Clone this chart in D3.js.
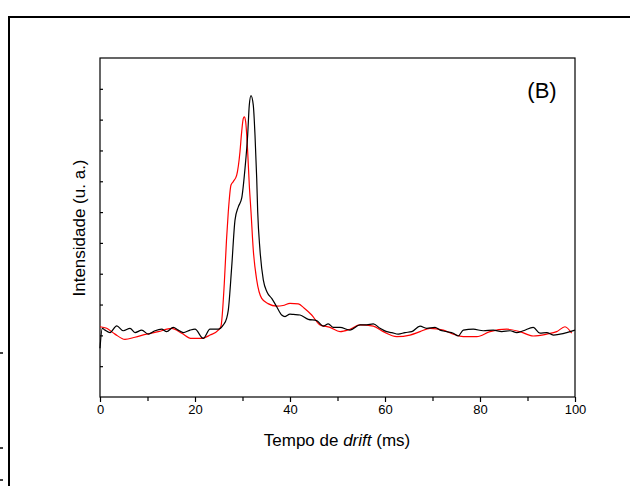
<!DOCTYPE html>
<html>
<head>
<meta charset="utf-8">
<script src="https://cdn.jsdelivr.net/npm/d3@7"></script>
<style>
body{margin:0;background:#fff;}
text{font-family:"Liberation Sans",Arial,sans-serif;fill:#000;}
</style>
</head>
<body>
<div class="chart"></div>
<script>
// drift time (ms) and intensity (a.u.)
var blackX = [0,0.48,1.05,2.11,3.52,4.91,6.32,7.37,8.78,10.17,11.58,12.99,14.04,15.43,16.48,17.54,18.95,20.0,21.75,23.16,24.91,25.96,26.67,27.01,27.73,28.42,29.12,29.83,30.53,31.09,31.43,31.79,32.27,32.63,32.99,33.2,33.68,34.38,35.16,36.15,37.2,38.25,38.95,40.0,40.69,42.11,43.85,45.62,47.01,48.06,49.12,50.53,52.63,54.74,56.15,57.54,58.95,60.36,61.41,62.8,64.21,65.62,67.37,68.78,70.53,71.58,72.99,74.38,75.43,76.48,78.59,80.69,82.8,84.57,86.32,87.73,89.12,91.22,92.63,94.04,95.43,96.84,98.25,100];
var blackY = [1.58,2.23,2.17,2.09,2.31,2.15,2.23,2.09,2.17,2.04,2.15,2.20,2.12,2.26,2.17,2.09,2.17,2.20,1.90,2.20,2.20,2.34,2.56,2.82,4.23,5.74,6.17,6.45,7.42,8.50,9.47,9.78,9.47,8.50,7.10,6.01,4.77,3.80,3.41,3.20,2.93,2.66,2.61,2.69,2.68,2.66,2.52,2.48,2.30,2.37,2.26,2.26,2.17,2.34,2.34,2.37,2.23,2.12,2.09,2.04,2.09,2.12,2.30,2.23,2.26,2.17,2.12,2.07,1.98,2.17,2.20,2.15,2.17,2.12,2.15,2.09,2.15,2.26,2.07,2.09,2.01,2.04,2.09,2.17];
var redX = [0,1.41,3.16,5.26,7.37,9.83,12.27,15.09,17.2,19.31,21.41,23.16,24.91,25.47,26.17,26.63,27.01,27.58,28.06,28.78,29.47,29.83,30.17,30.38,30.67,31.09,31.43,31.79,32.27,32.99,34.04,35.37,37.2,38.53,40.0,41.75,42.95,44.57,46.32,48.42,50.53,52.63,54.74,57.54,59.64,62.46,65.26,67.37,69.47,72.27,74.38,76.48,79.31,82.11,85.62,88.42,91.22,94.04,96.15,97.89,99.3];
var redY = [2.28,2.23,2.04,1.87,1.94,2.04,2.12,2.23,2.07,1.90,1.90,2.01,2.17,2.30,3.69,5.09,6.01,6.88,6.99,7.20,7.96,8.61,9.04,9.09,8.93,7.96,6.88,6.01,4.77,3.80,3.20,3.03,2.95,2.97,3.04,3.02,2.89,2.66,2.34,2.26,2.12,2.20,2.34,2.30,2.12,1.96,2.01,2.12,2.23,2.17,2.04,1.96,1.96,2.12,2.20,2.12,1.98,2.04,2.12,2.28,2.07];
var xMajor = [0,20,40,60,80,100];
var xMinor = [10,30,50,70,90];
var yTicks = [1,2,3,4,5,6,7,8,9,10];

var svg = d3.select(".chart").append("svg")
  .attr("width", 630).attr("height", 486);

// outer figure frame (cut off at right/bottom)
svg.append("path")
  .attr("d", "M9,486 L9,17 L630,17")
  .attr("fill", "none").attr("stroke", "#000").attr("stroke-width", 2);
[353, 448, 480].forEach(function(y){
  svg.append("line").attr("x1", 0).attr("x2", 3).attr("y1", y).attr("y2", y)
    .attr("stroke", "#000").attr("stroke-width", 1.5);
});

var x = d3.scaleLinear().domain([0,100]).range([100,575]);
var y = d3.scaleLinear().domain([0,11]).range([397,58]);

// plot box
svg.append("rect")
  .attr("x", x(0)).attr("y", y(11))
  .attr("width", x(100)-x(0)).attr("height", y(0)-y(11))
  .attr("fill", "none").attr("stroke", "#000").attr("stroke-width", 1.2);

// x axis
var xAxis = svg.append("g").attr("transform", "translate(0," + y(0) + ")")
  .call(d3.axisBottom(x).tickValues(xMajor).tickSize(5).tickPadding(3).tickFormat(d3.format("d")));
xAxis.select(".domain").remove();
xAxis.selectAll("text").style("font-size", "13px").style("font-family", "Liberation Sans, Arial, sans-serif");
svg.append("g").attr("transform", "translate(0," + y(0) + ")")
  .call(d3.axisBottom(x).tickValues(xMinor).tickSize(4).tickFormat(""))
  .select(".domain").remove();

// y axis, inner ticks without labels
var yAxis = svg.append("g").attr("transform", "translate(" + x(0) + ",0)")
  .call(d3.axisRight(y).tickValues(yTicks).tickSize(3).tickFormat(""));
yAxis.select(".domain").remove();

svg.selectAll(".tick line").attr("stroke-width", 1.2);

var line = d3.line()
  .x(function(d){ return x(d[0]); })
  .y(function(d){ return y(d[1]); })
  .curve(d3.curveMonotoneX);

svg.append("path")
  .attr("d", line(d3.zip(redX, redY)))
  .attr("fill", "none").attr("stroke", "#ff0000").attr("stroke-width", 1.2);
svg.append("path")
  .attr("d", line(d3.zip(blackX, blackY)))
  .attr("fill", "none").attr("stroke", "#000").attr("stroke-width", 1.2);

// labels
var xt = svg.append("text").attr("x", 337).attr("y", 446)
  .attr("text-anchor", "middle").style("font-size", "17px");
xt.append("tspan").text("Tempo de ");
xt.append("tspan").style("font-style", "italic").text("drift");
xt.append("tspan").text(" (ms)");

svg.append("text")
  .attr("transform", "translate(85,228) rotate(-90)")
  .attr("text-anchor", "middle").style("font-size", "17px")
  .text("Intensidade (u. a.)");

svg.append("text").attr("x", 542).attr("y", 98)
  .attr("text-anchor", "middle").style("font-size", "22px")
  .text("(B)");
</script>
</body>
</html>
